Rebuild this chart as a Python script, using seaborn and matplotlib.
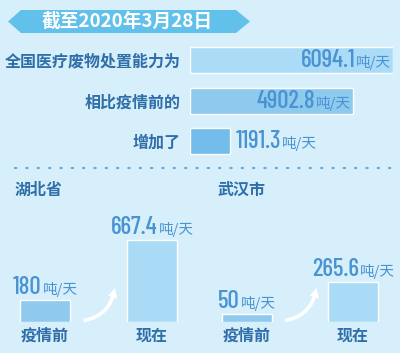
import matplotlib
matplotlib.use("Agg")
import matplotlib.pyplot as plt
import seaborn as sns
from matplotlib.patches import Polygon, FancyArrowPatch
from matplotlib.lines import Line2D

# ---- data ----
title = "截至2020年3月28日"
top_labels = ["全国医疗废物处置能力为", "相比疫情前的", "增加了"]
top_values = [6094.1, 4902.8, 1191.3]
top_text = ["6094.1", "4902.8", "1191.3"]
unit = "吨/天"

stage_labels = ["疫情前", "现在"]
hubei_values = [180, 667.4]
hubei_text = ["180", "667.4"]
wuhan_values = [50, 265.6]
wuhan_text = ["50", "265.6"]

# ---- style ----
BG = "#d6effb"
DARK = "#2f6ea8"
VAL = "#4a93d2"
CJK = ["Noto Sans CJK SC", "DejaVu Sans"]
NUM = ["Barlow Condensed", "Archivo Narrow", "DejaVu Sans"]

sns.set_theme(style="white")
plt.rcParams["font.family"] = CJK

W, H = 400, 353
fig = plt.figure(figsize=(W / 100, H / 100), dpi=100, facecolor=BG)


def box(l, t, r, b):
    # pixel box (from top-left) -> figure fraction
    return [l / W, 1 - b / H, (r - l) / W, (b - t) / H]


def clean(ax):
    ax.set_facecolor("none")
    for s in ax.spines.values():
        s.set_visible(False)
    ax.set_xlabel("")
    ax.set_ylabel("")


def value_label(ax, x, y, txt, dx, dy, ha="right"):
    # number + small unit sharing a baseline; dx, dy in pixels
    r = fig.canvas.get_renderer()
    t1 = ax.annotate(txt, xy=(x, y), xytext=(dx, dy), textcoords="offset pixels",
                     ha="left", va="baseline", fontsize=18, color=VAL,
                     family=NUM, fontweight="medium", annotation_clip=False)
    w1 = t1.get_window_extent(r).width
    t2 = ax.annotate(unit, xy=(x, y), xytext=(dx, dy), textcoords="offset pixels",
                     ha="left", va="baseline", fontsize=10.5, color=VAL,
                     family=CJK, annotation_clip=False)
    w2 = t2.get_window_extent(r).width
    if ha == "right":
        start = dx - w1 - w2
    elif ha == "center":
        start = dx - (w1 + w2) / 2
    else:
        start = dx
    t1.set_position((start, dy))
    t2.set_position((start + w1 + 1, dy))


# ---- banner ----
fig.patches.append(Polygon(
    [(8 / W, 1 - 21.5 / H), (21 / W, 1 - 10 / H), (236 / W, 1 - 10 / H),
     (250 / W, 1 - 21.5 / H), (236 / W, 1 - 33 / H), (21 / W, 1 - 33 / H)],
    closed=True, transform=fig.transFigure, facecolor="#62c1ea", edgecolor="none"))
fig.text(127 / W, 1 - 21.5 / H, title, ha="center", va="center", fontsize=13.5,
         fontweight="bold", color="white")

# ---- top horizontal bars ----
ax = fig.add_axes(box(190, 40, 393, 161.5))
sns.barplot(x=top_values, y=top_labels, hue=top_labels, orient="h",
            palette=["#abdcf7", "#8ec9ee", "#72bdeb"], saturation=1,
            width=0.64, legend=False, ax=ax)
clean(ax)
ax.set_xlim(0, top_values[0])
ax.set_ylim(2.5, -0.5)
ax.set_xticks([])
ax.tick_params(axis="y", length=0, pad=7)
for lab in ax.get_yticklabels():
    lab.set_fontsize(11.5)
    lab.set_fontweight("bold")
    lab.set_color(DARK)
for i, (v, t) in enumerate(zip(top_values, top_text)):
    if i < 2:
        value_label(ax, v, i, t, -3, -7, ha="right")
    else:
        value_label(ax, v, i, t, 6, -7, ha="left")

# ---- dotted separator ----
fig.add_artist(Line2D([15 / W, 392 / W], [1 - 168 / H] * 2, color="#6aa9dc",
                      lw=1.6, linestyle=(0, (0.6, 4.5)), dash_capstyle="round"))

# ---- regional bars ----
regions = [
    ("湖北省", hubei_values, hubei_text, 0, 45, 107, 82 / 667.4, 15),
    ("武汉市", wuhan_values, wuhan_text, 200, 246.5, 106.5, 40 / 265.6, 218),
]
for name, vals, txts, left, c0, step, scale, tx in regions:
    fig.text(tx / W, 1 - 190 / H, name, ha="left", va="center", fontsize=11.5,
             fontweight="bold", color=DARK)
    a = fig.add_axes(box(left, 200, left + 200, 322))
    sns.barplot(x=stage_labels, y=vals, hue=stage_labels,
                palette=["#8fc9ee", "#a9dbf7"], saturation=1,
                width=50 / step, legend=False, ax=a)
    clean(a)
    a.set_xlim((left - c0) / step, (left + 200 - c0) / step)
    a.set_ylim(0, 122 / scale)
    a.set_yticks([])
    a.tick_params(axis="x", length=0, pad=4)
    for lab in a.get_xticklabels():
        lab.set_fontsize(11.5)
        lab.set_fontweight("bold")
        lab.set_color(DARK)
    for i, (v, t) in enumerate(zip(vals, txts)):
        value_label(a, i, v, t, 0, 6, ha="center")
    # white curved arrow
    x0 = c0 + 36
    fig.patches.append(FancyArrowPatch(
        (x0 / W, 1 - 321 / H), ((x0 + 34) / W, 1 - 285 / H),
        transform=fig.transFigure, connectionstyle="arc3,rad=0.4",
        arrowstyle="simple,head_width=7,head_length=7,tail_width=2.6",
        color="white", lw=0))

fig.savefig("out.png", dpi=100, facecolor=BG)
